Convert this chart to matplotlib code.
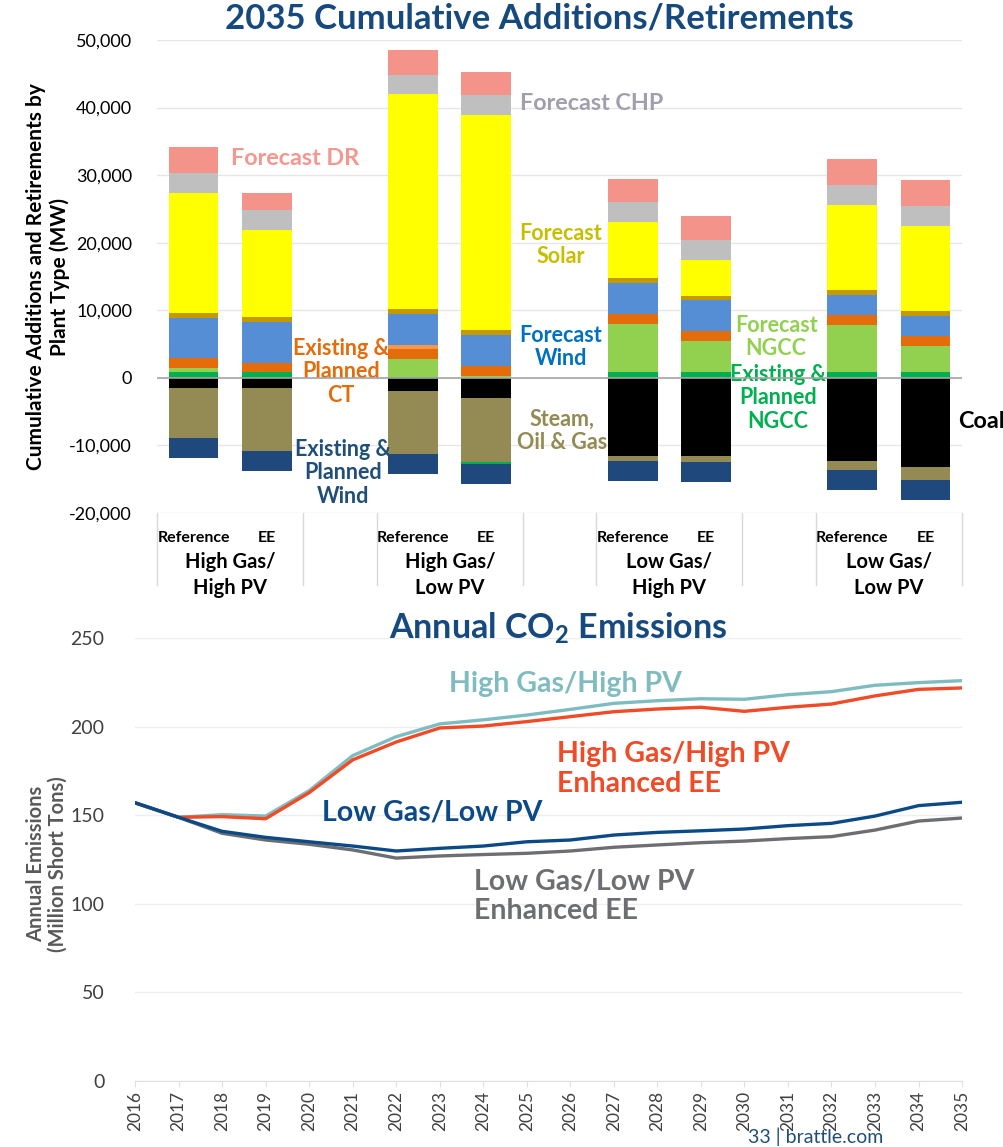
import matplotlib
matplotlib.use("Agg")
import matplotlib.pyplot as plt
from matplotlib.lines import Line2D
from matplotlib.ticker import FuncFormatter
import matplotlib.transforms as mtransforms

plt.rcParams["font.family"] = ["Lato", "DejaVu Sans"]
plt.rcParams["mathtext.fontset"] = "custom"
plt.rcParams["mathtext.rm"] = "Lato"
plt.rcParams["mathtext.bf"] = "Lato:bold"

# ---- top chart: 2035 cumulative additions / retirements (MW) ----
bar_slots = [0, 1, 3, 4, 6, 7, 9, 10]
case_labels = ["Reference", "EE"] * 4
group_labels = ["High Gas/\nHigh PV", "High Gas/\nLow PV", "Low Gas/\nHigh PV", "Low Gas/\nLow PV"]

ngcc_exist = [840, 840, 150, 0, 840, 840, 840, 840]
ngcc_fcst = [690, 0, 2620, 350, 7150, 4630, 6960, 3940]
ct_exist = [1380, 1380, 1470, 1430, 1480, 1430, 1470, 1430]
ct_fcst = [0, 0, 640, 0, 0, 0, 0, 0]
wind_fcst = [6010, 6010, 4540, 4580, 4580, 4640, 3010, 3010]
other_add = [740, 840, 740, 740, 740, 640, 740, 690]
solar_fcst = [17750, 12820, 31810, 31760, 8290, 5280, 12570, 12580]
chp_fcst = [2870, 2960, 2900, 3000, 2960, 2950, 2960, 2950]
dr_fcst = [3850, 2470, 3650, 3360, 3400, 3550, 3800, 3850]

coal_ret = [-1530, -1530, -1920, -3010, -11490, -11490, -12280, -13120]
steam_ret = [-7300, -9270, -9370, -9370, -790, -980, -1330, -1970]
ngcc_ret = [0, 0, 0, -340, 0, 0, 0, 0]
wind_ret = [-3050, -2960, -2960, -2960, -2960, -2960, -2960, -2960]

# ---- bottom chart: annual CO2 emissions (million short tons) ----
years = list(range(2016, 2036))
hg_hpv = [157.0, 148.8, 150.3, 149.5, 163.8, 183.6, 194.3, 201.5, 203.8, 206.5,
          209.7, 213.1, 214.6, 215.7, 215.4, 218.0, 219.7, 223.3, 224.8, 225.9]
hg_hpv_ee = [157.0, 148.8, 149.2, 148.0, 162.7, 181.2, 191.3, 199.2, 200.3, 202.8,
             205.6, 208.4, 209.9, 210.9, 208.6, 210.9, 212.7, 217.3, 221.0, 221.8]
lg_lpv = [157.0, 148.8, 140.9, 137.5, 135.0, 132.6, 129.8, 131.3, 132.6, 135.0,
          136.0, 138.8, 140.3, 141.2, 142.2, 144.1, 145.4, 149.5, 155.4, 157.3]
lg_lpv_ee = [157.0, 148.8, 139.8, 136.0, 133.6, 130.4, 125.8, 127.0, 127.8, 128.5,
             129.8, 131.9, 133.2, 134.5, 135.4, 136.8, 137.9, 141.6, 146.7, 148.4]

fig = plt.figure(figsize=(10.04, 11.47), dpi=100)
ax1 = fig.add_axes([0.1564, 0.5527, 0.8018, 0.4124])
ax2 = fig.add_axes([0.1345, 0.0575, 0.8237, 0.3863])

# stacked bars
pos_stack = [(ngcc_exist, "#00B050"), (ngcc_fcst, "#92D050"), (ct_exist, "#E46C0A"),
             (ct_fcst, "#F79646"), (wind_fcst, "#558ED5"), (other_add, "#C49A00"),
             (solar_fcst, "#FFFF00"), (chp_fcst, "#BFBFBF"), (dr_fcst, "#F4938A")]
neg_stack = [(coal_ret, "#000000"), (steam_ret, "#948A54"), (ngcc_ret, "#00B050"),
             (wind_ret, "#1F497D")]
W = 0.68
base = [0] * len(bar_slots)
for vals, col in pos_stack:
    ax1.bar(bar_slots, vals, W, bottom=base, color=col, edgecolor="none", zorder=3)
    base = [b + v for b, v in zip(base, vals)]
base = [0] * len(bar_slots)
for vals, col in neg_stack:
    ax1.bar(bar_slots, vals, W, bottom=base, color=col, edgecolor="none", zorder=3)
    base = [b + v for b, v in zip(base, vals)]

ax1.set_xlim(-0.5, 10.5)
ax1.set_ylim(-20000, 50000)
ax1.set_yticks(range(-20000, 50001, 10000))
ax1.yaxis.set_major_formatter(FuncFormatter(lambda v, p: f"{v:,.0f}"))
ax1.grid(axis="y", color="#E6E6E6", lw=1, zorder=0)
ax1.axhline(0, color="#A6A6A6", lw=1.2, zorder=4)
for s in ax1.spines.values():
    s.set_visible(False)
ax1.tick_params(axis="y", length=0, pad=18, labelsize=13)
ax1.set_xticks(bar_slots)
ax1.set_xticklabels(case_labels, fontsize=11.5, fontweight="bold")
ax1.tick_params(axis="x", length=0, pad=13)
trans = mtransforms.blended_transform_factory(ax1.transData, ax1.transAxes)
for xs in [-0.5, 1.5, 2.5, 4.5, 5.5, 7.5, 8.5, 10.5]:
    ax1.add_line(Line2D([xs, xs], [0, -0.152], transform=trans, color="#D9D9D9",
                        lw=1, clip_on=False))
for i, g in enumerate(group_labels):
    ax1.text(bar_slots[2 * i] + 0.5, -0.131, g, transform=trans, ha="center", va="center",
             fontsize=14.5, fontweight="bold", linespacing=1.4)
ax1.set_ylabel("Cumulative Additions and Retirements by\nPlant Type (MW)",
               fontsize=15, fontweight="bold", linespacing=1.2)
ax1.yaxis.set_label_coords(-0.108, 0.5)
fig.text(0.537, 0.984, "2035 Cumulative Additions/Retirements", ha="center", va="center",
         fontsize=25, fontweight="bold", color="#16497D")

kw1 = dict(fontsize=16.8, fontweight="bold", ha="left", va="center")
kw = dict(fontsize=15.5, fontweight="bold", ha="center", va="center", linespacing=1.16)
ax1.text(0.51, 32540, "Forecast DR", color="#F4978E", **kw1)
ax1.text(4.46, 40680, "Forecast CHP", color="#A09FAE", **kw1)
ax1.text(5.02, 19670, "Forecast\nSolar", color="#C8BE00", **kw)
ax1.text(5.02, 4590, "Forecast\nWind", color="#0070C0", **kw)
ax1.text(2.01, 890, "Existing &\nPlanned\nCT", color="#E46C0A", **kw)
ax1.text(2.04, -14050, "Existing &\nPlanned\nWind", color="#1F4E79", **kw)
ax1.text(5.03, -7840, "Steam,\nOil & Gas", color="#948A54", **kw)
ax1.text(7.96, 6070, "Forecast\nNGCC", color="#92D050", **kw)
ax1.text(7.98, -2960, "Existing &\nPlanned\nNGCC", color="#00B050", **kw)
ax1.text(10.45, -6510, "Coal", color="black", clip_on=False, **kw1)

# emissions lines
ax2.plot(years, hg_hpv, color="#7FBCC2", lw=2.4, zorder=3)
ax2.plot(years, hg_hpv_ee, color="#F04A26", lw=2.4, zorder=3)
ax2.plot(years, lg_lpv_ee, color="#6D6E71", lw=2.4, zorder=3)
ax2.plot(years, lg_lpv, color="#0B4A86", lw=2.4, zorder=4)
ax2.set_xlim(2016, 2035)
ax2.set_ylim(0, 250)
ax2.set_yticks(range(0, 251, 50))
ax2.set_xticks(years)
ax2.set_xticklabels([str(y) for y in years], rotation=90, fontsize=12.5, color="#404040")
ax2.grid(axis="y", color="#EEEEEE", lw=1, zorder=0)
for s in ["top", "right", "left"]:
    ax2.spines[s].set_visible(False)
ax2.spines["bottom"].set_color("#E0E0E0")
ax2.tick_params(axis="x", length=4, color="#E0E0E0", pad=3)
ax2.tick_params(axis="y", length=0, pad=22, labelsize=14, labelcolor="#404040")
ax2.set_ylabel("Annual Emissions\n(Million Short Tons)", fontsize=14.5, fontweight="bold",
               color="#595959", linespacing=1.1)
ax2.yaxis.set_label_coords(-0.081, 0.49)
fig.text(0.556, 0.4525, r"Annual CO$_\mathbf{2}$ Emissions", ha="center", va="center",
         fontsize=24.5, fontweight="bold", color="#16497D")

kw2 = dict(fontsize=20.5, fontweight="bold", ha="left", va="center", linespacing=1.15)
ax2.text(2023.21, 224.0, "High Gas/High PV", color="#7FBCC2", **kw2)
ax2.text(2025.69, 176.1, "High Gas/High PV\nEnhanced EE", color="#F04A26", **kw2)
ax2.text(2020.30, 151.8, "Low Gas/Low PV", color="#0B4A86", **kw2)
ax2.text(2023.79, 104.4, "Low Gas/Low PV\nEnhanced EE", color="#6D6E71", **kw2)

fig.text(0.745, 0.001, "33 | brattle.com", ha="left", va="bottom", fontsize=14,
         color="#1F4E79")

fig.savefig("out.png", dpi=100)
